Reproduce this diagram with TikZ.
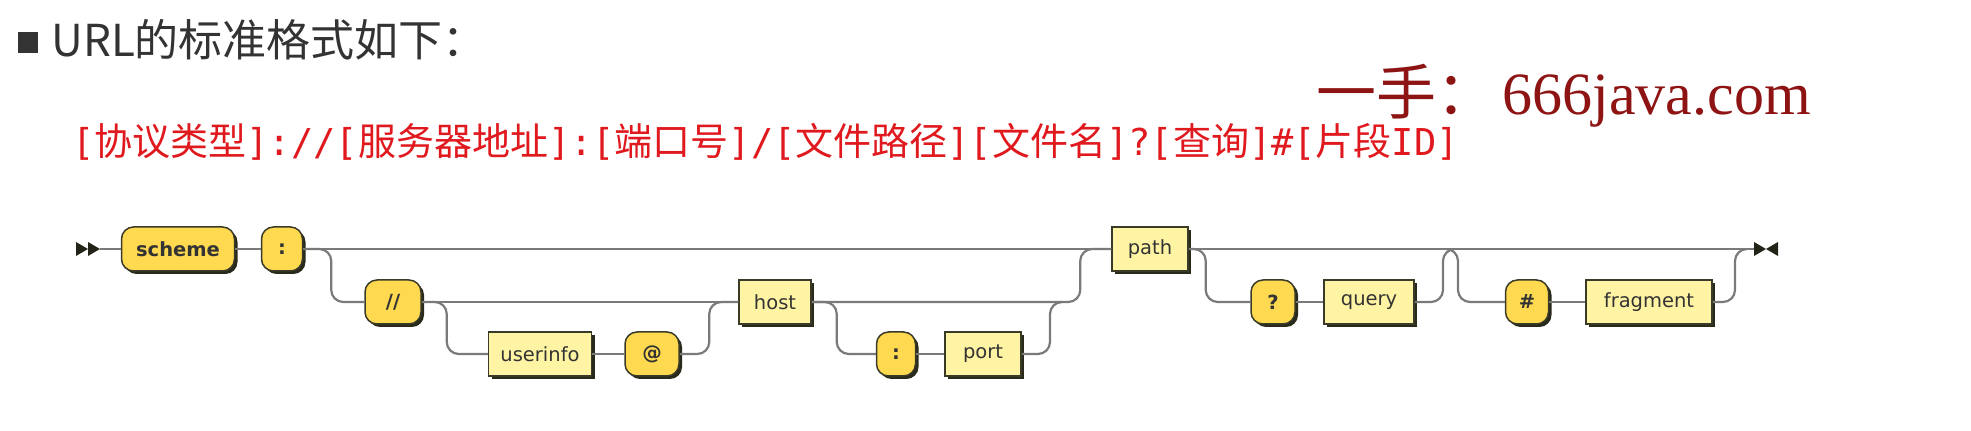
\documentclass[tikz,border=0pt]{standalone}
\usepackage{fontspec}
\setmainfont{DejaVu Sans}
\newfontfamily\cjk{Noto Sans CJK SC}
\newfontfamily\mono{DejaVu Sans Mono}
\newfontfamily\serif{Liberation Serif}
\usetikzlibrary{shadows}
\definecolor{termfill}{HTML}{FFD94F}
\definecolor{ntfill}{HTML}{FFF4A3}
\definecolor{boxline}{HTML}{3A3A28}
\definecolor{railgray}{HTML}{7A7A7A}
\definecolor{urlred}{HTML}{E0191E}
\definecolor{brandred}{HTML}{8E1414}
\definecolor{headgray}{HTML}{333333}
\newcommand\zh[1]{{\cjk\fontsize{19}{22}\selectfont#1}}
\tikzset{box/.style={draw=boxline,line width=.75pt,minimum height=22pt,inner sep=0pt,
           text=headgray,font=\fontsize{9.75}{11}\selectfont,
           drop shadow={shadow xshift=1.5pt,shadow yshift=-1.5pt,fill=boxline!70!black,opacity=1}},
         terminal/.style={box,fill=termfill,rounded corners=6pt,font=\fontsize{9.75}{11}\selectfont\bfseries},
         nonterminal/.style={box,fill=ntfill},
         rail/.style={draw=railgray,line width=1.1pt,rounded corners=6pt},
         marker/.style={fill=boxline!60!black},
         label text/.style={anchor=base west,inner sep=0pt}
         }

\begin{document}
\begin{tikzpicture}[x=0.5pt,y=-0.5pt]
\useasboundingbox (0,0) rectangle (1971,431);
\fill[headgray] (18,32) rectangle (38,53);
\node[label text,text=headgray,font=\cjk\fontsize{22}{26}\selectfont] (title) at (51,57) {URL的标准格式如下：};
\node[label text,text=urlred,font=\mono\fontsize{18.5}{22}\selectfont] (format) at (72,156)
  {[\zh{协议类型}]://[\zh{服务器地址}]:[\zh{端口号}]/[\zh{文件路径}][\zh{文件名}]?[\zh{查询}]\#[\zh{片段}ID]};
\node[label text,text=brandred,font=\cjk\fontsize{30}{34}\selectfont] (brand) at (1316,115) {一手：};
\node[label text,text=brandred,font=\serif\fontsize{30}{34}\selectfont] (site) at (1502,115) {666java.com};

\node[terminal,minimum width=56.5pt] (scheme) at (178,249) {scheme};
\node[terminal,minimum width=20.5pt] (colon) at (282,249) {:};
\node[terminal,minimum width=28pt] (slashes) at (393,302) {//};
\node[nonterminal,minimum width=51.5pt] (userinfo) at (540,354) {userinfo};
\node[terminal,minimum width=27pt] (at) at (652,354) {@};
\node[nonterminal,minimum width=36pt] (host) at (775,302) {host};
\node[terminal,minimum width=19.5pt] (pcolon) at (896,354) {:};
\node[nonterminal,minimum width=38pt] (port) at (983,354) {port};
\node[nonterminal,minimum width=38pt] (path) at (1150,249) {path};
\node[terminal,minimum width=22pt] (qmark) at (1273,302) {?};
\node[nonterminal,minimum width=45pt] (query) at (1369,302) {query};
\node[terminal,minimum width=21.5pt] (hash) at (1527,302) {\#};
\node[nonterminal,minimum width=63pt] (fragment) at (1649,302) {fragment};

\fill[marker] (76,242) -- (88,249) -- (76,256) -- cycle (88,242) -- (100,249) -- (88,256) -- cycle;
\coordinate (start) at (100,249);
\fill[marker] (1754,242) -- (1766,249) -- (1754,256) -- cycle (1778,242) -- (1766,249) -- (1778,256) -- cycle;
\coordinate (finish) at (1754,249);
\coordinate (portjoin) at (1062,302);
\coordinate (queryjoin) at (1455,249);
\coordinate (hashsplit) at (1446,249);
\coordinate (fragjoin) at (1747,249);

\draw[rail] (start) -- (scheme.west);
\draw[rail] (scheme.east) -- (colon.west);
\draw[rail] (colon.east) -- (path.west);
\draw[rail] (colon.east) -- ++(28,0) |- (slashes.west);
\draw[rail] (slashes.east) -- (host.west);
\draw[rail] (slashes.east) -- ++(25,0) |- (userinfo.west);
\draw[rail] (userinfo.east) -- (at.west);
\draw[rail] (host.west) -- ++(-29,0) |- (at.east);
\draw[rail] (path.west) -- ++(-31,0) |- (host.east);
\draw[rail] (host.east) -- ++(25,0) |- (pcolon.west);
\draw[rail] (pcolon.east) -- (port.west);
\draw[rail] (portjoin) -- ++(-12,0) |- (port.east);
\draw[rail] (path.east) -- (finish);
\draw[rail] (path.east) -- ++(17,0) |- (qmark.west);
\draw[rail] (qmark.east) -- (query.west);
\draw[rail] (queryjoin) -- ++(-12,0) |- (query.east);
\draw[rail] (hashsplit) -- ++(12,0) |- (hash.west);
\draw[rail] (hash.east) -- (fragment.west);
\draw[rail] (fragjoin) -- ++(-12,0) |- (fragment.east);
\end{tikzpicture}
\end{document}
